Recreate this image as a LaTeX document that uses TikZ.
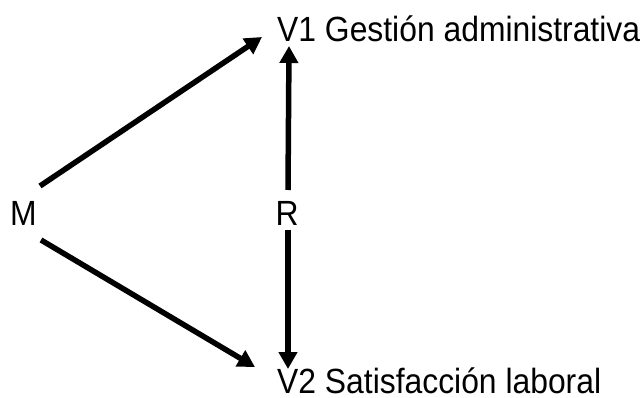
\documentclass[tikz,border=0pt]{standalone}
\usepackage{fontspec}
\setmainfont[FakeStretch=0.91]{Liberation Sans}
\usetikzlibrary{arrows.meta}
\tikzset{
  lbl/.style={inner sep=0pt, anchor=base west, font=\fontsize{35}{42}\selectfont},
  arr/.style={line width=5.5pt, -{Triangle[length=17pt,width=18pt]}}
}
\begin{document}
\begin{tikzpicture}[x=1pt,y=-1pt]
\useasboundingbox (0,0) rectangle (643,398);
\node[lbl] (M) at (10,226) {M};
\node[lbl] (R) at (275.5,226) {R};
\node[lbl] (V1) at (277,42) {V1 Gestión administrativa};
\node[lbl] (V2) at (277,393) {V2 Satisfacción laboral};
\coordinate (ma) at (40,186);
\coordinate (mb) at (41,240);
\coordinate (v1a) at (262,37);
\coordinate (v2a) at (255,367);
\coordinate (ra) at (288,190);
\coordinate (rb) at (288,230);
\coordinate (v1b) at (289,46);
\coordinate (v2b) at (288,369);
\draw[arr] (ma) -- (v1a);
\draw[arr] (mb) -- (v2a);
\draw[arr] (ra) -- (v1b);
\draw[arr] (rb) -- (v2b);
\end{tikzpicture}
\end{document}
